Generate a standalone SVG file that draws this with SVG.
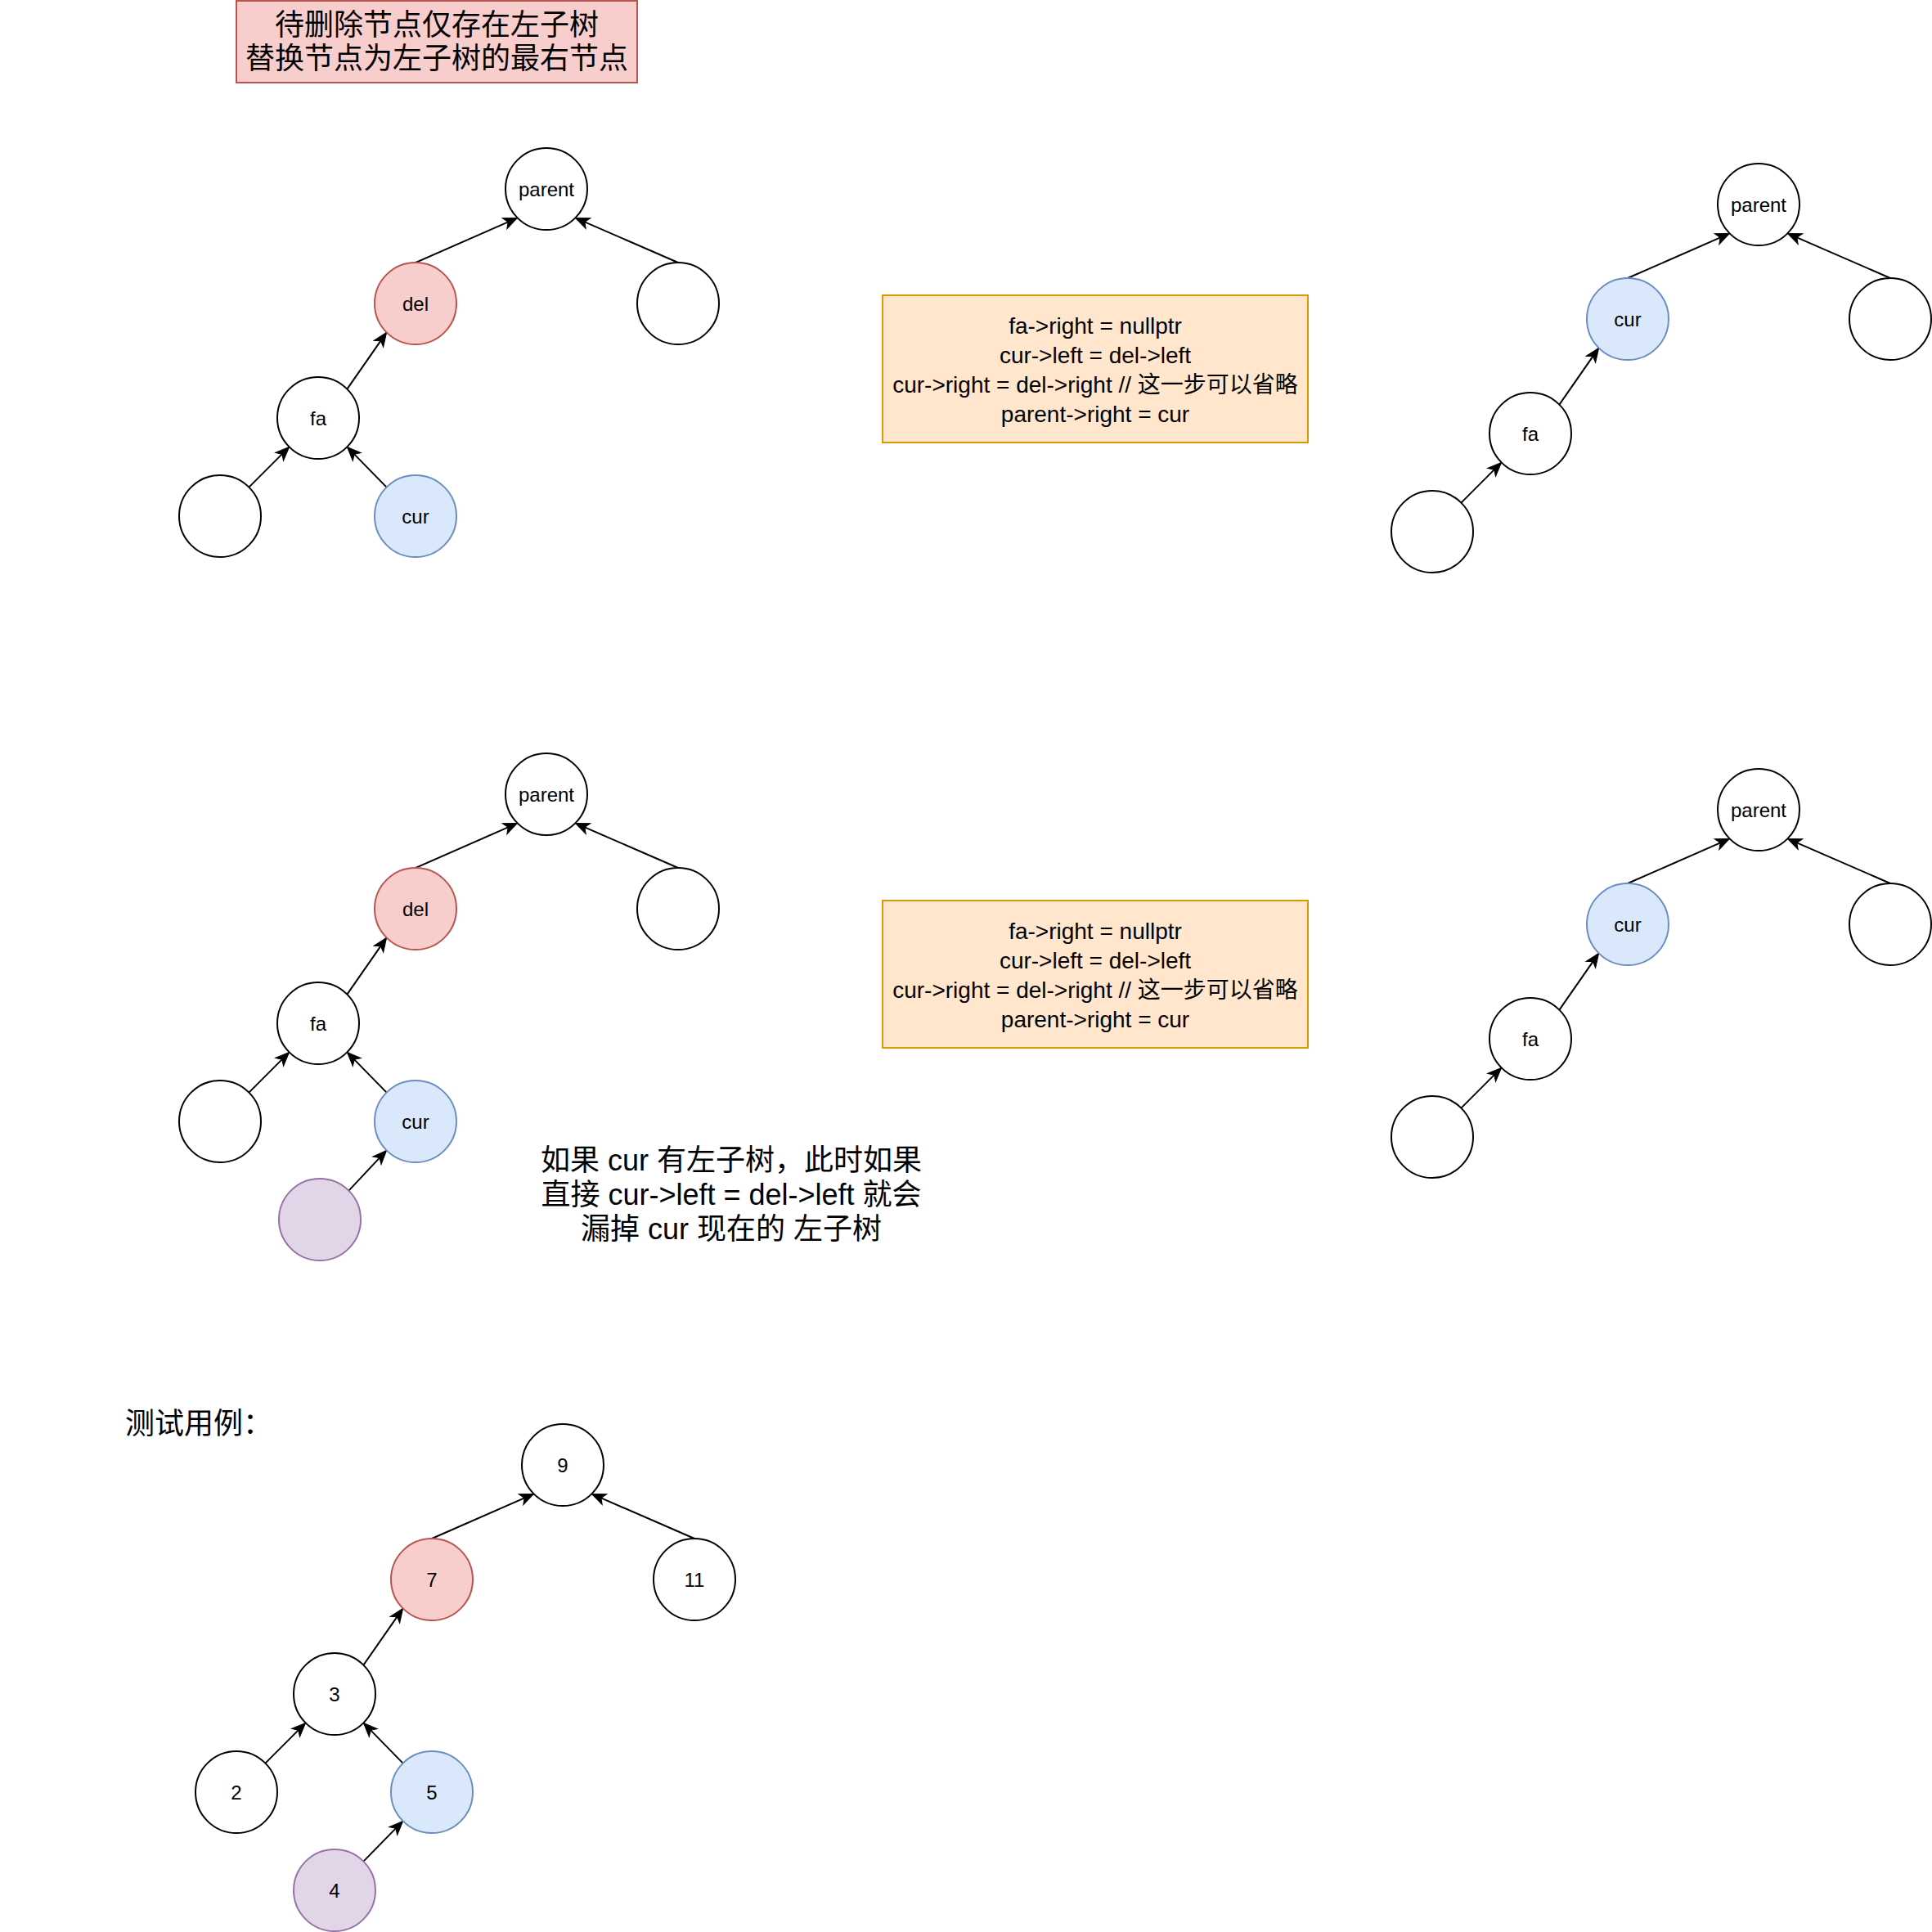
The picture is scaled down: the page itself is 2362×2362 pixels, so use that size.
<svg xmlns="http://www.w3.org/2000/svg" width="2362" height="2362" viewBox="0 0 2362 2362">
<defs>
<marker id="arr" markerUnits="userSpaceOnUse" markerWidth="20" markerHeight="16" refX="0" refY="0" viewBox="-17 -8 18 16" orient="auto" overflow="visible">
<path d="M0,0 L-17,-7 L-12.5,0 L-17,7 Z" fill="#000" stroke="#000" stroke-width="1"/>
</marker>
</defs>
<style>
.n{fill:#fff;stroke:#000;stroke-width:2}
.red{fill:#f8cecc;stroke:#b85450;stroke-width:2}
.blue{fill:#dae8fc;stroke:#6c8ebf;stroke-width:2}
.pur{fill:#e1d5e7;stroke:#9673a6;stroke-width:2}
.lbl{font-family:"Liberation Sans",Arial,sans-serif;font-size:24px;fill:#000;text-anchor:middle;dominant-baseline:central}
.big{font-family:"Liberation Sans","Noto Sans CJK SC",sans-serif;font-size:36px;fill:#000;text-anchor:middle}
.code{font-family:"Liberation Sans","Noto Sans CJK SC",sans-serif;font-size:28px;fill:#000;text-anchor:middle}
.e{stroke:#000;stroke-width:2;fill:none;marker-end:url(#arr)}
</style>
<rect width="2362" height="2362" fill="#fff"/>

<g id="title">
<rect x="289" y="1" width="490" height="100" fill="#f8cecc" stroke="#b85450" stroke-width="2"/>
<text class="big" x="534" y="43">待删除节点仅存在左子树</text>
<text class="big" x="534" y="84">替换节点为左子树的最右节点</text>
</g>

<g id="connectors">
<!-- tree 1 -->
<line class="e" x1="508" y1="321" x2="632.6" y2="266.4"/>
<line class="e" x1="829" y1="321" x2="703.4" y2="266.4"/>
<line class="e" x1="424.4" y1="475.6" x2="472.6" y2="406.4"/>
<line class="e" x1="304.4" y1="595.6" x2="353.6" y2="546.4"/>
<line class="e" x1="472.6" y1="595.6" x2="424.4" y2="546.4"/>
<!-- tree 2 -->
<line class="e" x1="1990" y1="340" x2="2114.6" y2="285.4"/>
<line class="e" x1="2311" y1="340" x2="2185.4" y2="285.4"/>
<line class="e" x1="1906.4" y1="494.6" x2="1954.6" y2="425.4"/>
<line class="e" x1="1786.4" y1="614.6" x2="1835.6" y2="565.4"/>
<!-- tree 3 -->
<line class="e" x1="508" y1="1061" x2="632.6" y2="1006.4"/>
<line class="e" x1="829" y1="1061" x2="703.4" y2="1006.4"/>
<line class="e" x1="424.4" y1="1215.6" x2="472.6" y2="1146.4"/>
<line class="e" x1="304.4" y1="1335.6" x2="353.6" y2="1286.4"/>
<line class="e" x1="472.6" y1="1335.6" x2="424.4" y2="1286.4"/>
<line class="e" x1="426.4" y1="1455.6" x2="472.6" y2="1406.4"/>
<!-- tree 4 -->
<line class="e" x1="1990" y1="1080" x2="2114.6" y2="1025.4"/>
<line class="e" x1="2311" y1="1080" x2="2185.4" y2="1025.4"/>
<line class="e" x1="1906.4" y1="1234.6" x2="1954.6" y2="1165.4"/>
<line class="e" x1="1786.4" y1="1354.6" x2="1835.6" y2="1305.4"/>
<!-- test tree -->
<line class="e" x1="528" y1="1881" x2="652.6" y2="1826.4"/>
<line class="e" x1="849" y1="1881" x2="723.4" y2="1826.4"/>
<line class="e" x1="444.4" y1="2035.6" x2="492.6" y2="1966.4"/>
<line class="e" x1="324.4" y1="2155.6" x2="373.6" y2="2106.4"/>
<line class="e" x1="492.6" y1="2155.6" x2="444.4" y2="2106.4"/>
<line class="e" x1="444.4" y1="2275.6" x2="492.6" y2="2226.4"/>
</g>

<!-- tree 1 -->
<g id="t1-parent"><circle class="n" cx="668" cy="231" r="50"/><text class="lbl" x="668" y="231">parent</text></g>
<g id="t1-del"><circle class="red" cx="508" cy="371" r="50"/><text class="lbl" x="508" y="371">del</text></g>
<g id="t1-right"><circle class="n" cx="829" cy="371" r="50"/></g>
<g id="t1-fa"><circle class="n" cx="389" cy="511" r="50"/><text class="lbl" x="389" y="511">fa</text></g>
<g id="t1-left"><circle class="n" cx="269" cy="631" r="50"/></g>
<g id="t1-cur"><circle class="blue" cx="508" cy="631" r="50"/><text class="lbl" x="508" y="631">cur</text></g>

<g id="code1">
<rect x="1079" y="361" width="520" height="180" fill="#ffe6cc" stroke="#d79b00" stroke-width="2"/>
<text class="code" x="1339" y="408">fa-&gt;right = nullptr</text>
<text class="code" x="1339" y="444">cur-&gt;left = del-&gt;left</text>
<text class="code" x="1339" y="480">cur-&gt;right = del-&gt;right // 这一步可以省略</text>
<text class="code" x="1339" y="516">parent-&gt;right = cur</text>
</g>

<!-- tree 2 -->
<g id="t2-parent"><circle class="n" cx="2150" cy="250" r="50"/><text class="lbl" x="2150" y="250">parent</text></g>
<g id="t2-cur"><circle class="blue" cx="1990" cy="390" r="50"/><text class="lbl" x="1990" y="390">cur</text></g>
<g id="t2-right"><circle class="n" cx="2311" cy="390" r="50"/></g>
<g id="t2-fa"><circle class="n" cx="1871" cy="530" r="50"/><text class="lbl" x="1871" y="530">fa</text></g>
<g id="t2-left"><circle class="n" cx="1751" cy="650" r="50"/></g>

<!-- tree 3 -->
<g id="t3-parent"><circle class="n" cx="668" cy="971" r="50"/><text class="lbl" x="668" y="971">parent</text></g>
<g id="t3-del"><circle class="red" cx="508" cy="1111" r="50"/><text class="lbl" x="508" y="1111">del</text></g>
<g id="t3-right"><circle class="n" cx="829" cy="1111" r="50"/></g>
<g id="t3-fa"><circle class="n" cx="389" cy="1251" r="50"/><text class="lbl" x="389" y="1251">fa</text></g>
<g id="t3-left"><circle class="n" cx="269" cy="1371" r="50"/></g>
<g id="t3-cur"><circle class="blue" cx="508" cy="1371" r="50"/><text class="lbl" x="508" y="1371">cur</text></g>
<g id="t3-curleft"><circle class="pur" cx="391" cy="1491" r="50"/></g>

<g id="code2">
<rect x="1079" y="1101" width="520" height="180" fill="#ffe6cc" stroke="#d79b00" stroke-width="2"/>
<text class="code" x="1339" y="1148">fa-&gt;right = nullptr</text>
<text class="code" x="1339" y="1184">cur-&gt;left = del-&gt;left</text>
<text class="code" x="1339" y="1220">cur-&gt;right = del-&gt;right // 这一步可以省略</text>
<text class="code" x="1339" y="1256">parent-&gt;right = cur</text>
</g>

<g id="note">
<text class="big" x="894" y="1431">如果 cur 有左子树，此时如果</text>
<text class="big" x="894" y="1473">直接 cur-&gt;left = del-&gt;left 就会</text>
<text class="big" x="894" y="1515">漏掉 cur 现在的 左子树</text>
</g>

<!-- tree 4 -->
<g id="t4-parent"><circle class="n" cx="2150" cy="990" r="50"/><text class="lbl" x="2150" y="990">parent</text></g>
<g id="t4-cur"><circle class="blue" cx="1990" cy="1130" r="50"/><text class="lbl" x="1990" y="1130">cur</text></g>
<g id="t4-right"><circle class="n" cx="2311" cy="1130" r="50"/></g>
<g id="t4-fa"><circle class="n" cx="1871" cy="1270" r="50"/><text class="lbl" x="1871" y="1270">fa</text></g>
<g id="t4-left"><circle class="n" cx="1751" cy="1390" r="50"/></g>

<!-- test -->
<g id="test-label"><text class="big" x="153" y="1753" style="text-anchor:start">测试用例：</text></g>
<g id="n9"><circle class="n" cx="688" cy="1791" r="50"/><text class="lbl" x="688" y="1791">9</text></g>
<g id="n7"><circle class="red" cx="528" cy="1931" r="50"/><text class="lbl" x="528" y="1931">7</text></g>
<g id="n11"><circle class="n" cx="849" cy="1931" r="50"/><text class="lbl" x="849" y="1931">11</text></g>
<g id="n3"><circle class="n" cx="409" cy="2071" r="50"/><text class="lbl" x="409" y="2071">3</text></g>
<g id="n2"><circle class="n" cx="289" cy="2191" r="50"/><text class="lbl" x="289" y="2191">2</text></g>
<g id="n5"><circle class="blue" cx="528" cy="2191" r="50"/><text class="lbl" x="528" y="2191">5</text></g>
<g id="n4"><circle class="pur" cx="409" cy="2311" r="50"/><text class="lbl" x="409" y="2311">4</text></g>
</svg>
